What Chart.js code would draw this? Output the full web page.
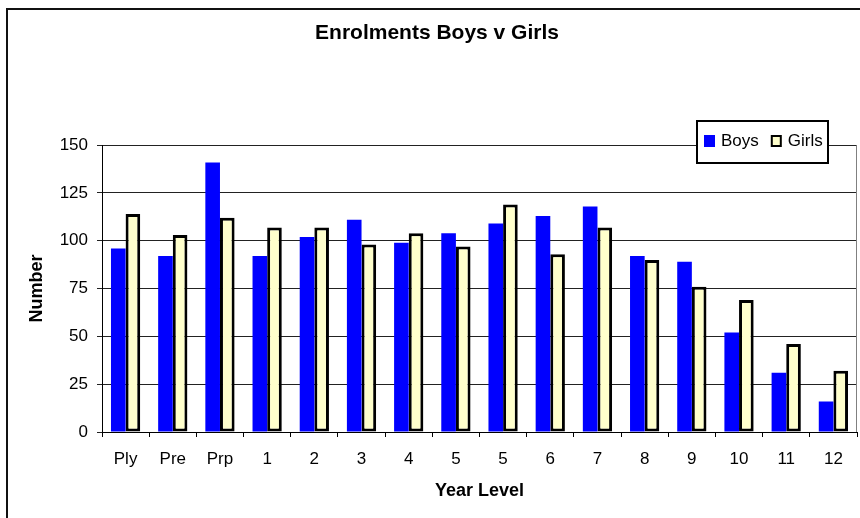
<!DOCTYPE html>
<html>
<head>
<meta charset="utf-8">
<title>Enrolments Boys v Girls</title>
<script src="https://cdn.jsdelivr.net/npm/chart.js@4.4.0/dist/chart.umd.min.js"></script>
<style>
    html, body { margin: 0; padding: 0; background: #fff; overflow: hidden; }
    #wrap { width: 860px; height: 518px; }
</style>
</head>
<body>
<div id="wrap"><canvas id="enrolChart" width="860" height="518"></canvas></div>
<script>
// Chart data
const yearLevels = ['Ply', 'Pre', 'Prp', '1', '2', '3', '4', '5', '5', '6', '7', '8', '9', '10', '11', '12'];
const boysCounts = [96, 92, 141, 92, 102, 111, 99, 104, 109, 113, 118, 92, 89, 52, 31, 16];
const girlsCounts = [114, 103, 112, 107, 107, 98, 104, 97, 119, 93, 107, 90, 76, 69, 46, 32];
const yTickValues = [0, 25, 50, 75, 100, 125, 150];

const FONT = "'Liberation Sans', Arial, sans-serif";

document.addEventListener('DOMContentLoaded', function () {
    Chart.defaults.font.family = FONT;
    Chart.defaults.color = '#000';

    // White page with the outer chart frame (only left/top edges visible)
    const framePlugin = {
        id: 'frame',
        beforeDraw(chart) {
            const ctx = chart.ctx;
            ctx.save();
            ctx.fillStyle = '#fff';
            ctx.fillRect(0, 0, chart.width, chart.height);
            ctx.strokeStyle = '#111';
            ctx.lineWidth = 2;
            ctx.strokeRect(7, 9, chart.width + 40, chart.height + 40);
            ctx.restore();
        },
        afterDatasetsDraw(chart) {
            // grey right edge of the plot area
            const a = chart.chartArea;
            const ctx = chart.ctx;
            ctx.save();
            ctx.strokeStyle = '#808080';
            ctx.lineWidth = 1;
            ctx.beginPath();
            ctx.moveTo(a.right - 0.5, a.top);
            ctx.lineTo(a.right - 0.5, a.bottom);
            ctx.stroke();
            ctx.restore();
        }
    };

    // Boxed legend sitting over the top right of the plot
    const boxLegend = {
        id: 'boxLegend',
        afterDraw(chart) {
            const ctx = chart.ctx;
            const box = { x: 697, y: 121, w: 131, h: 42 };
            ctx.save();
            ctx.fillStyle = '#fff';
            ctx.fillRect(box.x, box.y, box.w, box.h);
            ctx.strokeStyle = '#000';
            ctx.lineWidth = 2;
            ctx.strokeRect(box.x, box.y, box.w, box.h);

            ctx.font = '17px ' + FONT;
            ctx.textBaseline = 'middle';
            ctx.textAlign = 'left';
            let x = box.x + 7;
            const midY = box.y + 20;
            chart.data.datasets.forEach(ds => {
                ctx.fillStyle = ds.backgroundColor;
                ctx.fillRect(x, midY - 6, 11, 12);
                if (ds.borderWidth) {
                    ctx.strokeStyle = ds.borderColor;
                    ctx.lineWidth = 2;
                    ctx.strokeRect(x + 1, midY - 5, 9, 10);
                }
                ctx.fillStyle = '#000';
                ctx.fillText(ds.label, x + 17, midY);
                x += 17 + ctx.measureText(ds.label).width + 12;
            });
            ctx.restore();
        }
    };

    const ctx = document.getElementById('enrolChart');
    new Chart(ctx, {
        type: 'bar',
        data: {
            labels: yearLevels,
            datasets: [{
                label: 'Boys',
                data: boysCounts,
                backgroundColor: '#0000FF',
                borderWidth: 0,
                categoryPercentage: 0.62,
                barPercentage: 1.0
            }, {
                label: 'Girls',
                data: girlsCounts,
                backgroundColor: '#FFFFCC',
                borderColor: '#000',
                borderWidth: 3,
                borderSkipped: false,
                categoryPercentage: 0.62,
                barPercentage: 1.0
            }]
        },
        options: {
            responsive: false,
            maintainAspectRatio: false,
            animation: false,
            devicePixelRatio: 1,
            layout: {
                padding: { top: 10, left: 17, right: 3, bottom: 0 }
            },
            plugins: {
                legend: { display: false },
                tooltip: { enabled: false },
                title: {
                    display: true,
                    text: 'Enrolments Boys v Girls',
                    color: '#000',
                    font: { size: 21, weight: 'bold' },
                    padding: { top: 11, bottom: 99 }
                }
            },
            scales: {
                x: {
                    afterFit: scale => { scale.height = 86; },
                    grid: {
                        offset: true,
                        drawOnChartArea: false,
                        drawTicks: true,
                        tickLength: 5,
                        color: '#000'
                    },
                    border: { display: true, color: '#000', width: 1 },
                    ticks: {
                        font: { size: 17 },
                        color: '#000',
                        padding: 12,
                        maxRotation: 0,
                        autoSkip: false
                    },
                    title: {
                        display: true,
                        text: 'Year Level',
                        color: '#000',
                        font: { size: 18, weight: 'bold' },
                        padding: { top: 0, bottom: 16 }
                    }
                },
                y: {
                    min: 0,
                    max: 150,
                    afterFit: scale => { scale.width = 85; },
                    afterBuildTicks: axis => {
                        axis.ticks = yTickValues.map(v => ({ value: v }));
                    },
                    grid: {
                        color: '#222',
                        lineWidth: 1,
                        drawTicks: true,
                        tickLength: 5
                    },
                    border: { display: true, color: '#000', width: 1 },
                    ticks: {
                        font: { size: 17 },
                        color: '#000',
                        padding: 9
                    },
                    title: {
                        display: true,
                        text: 'Number',
                        color: '#000',
                        font: { size: 18, weight: 'bold' },
                        padding: { top: 9, bottom: 0 }
                    }
                }
            }
        },
        plugins: [framePlugin, boxLegend]
    });
});
</script>
</body>
</html>
